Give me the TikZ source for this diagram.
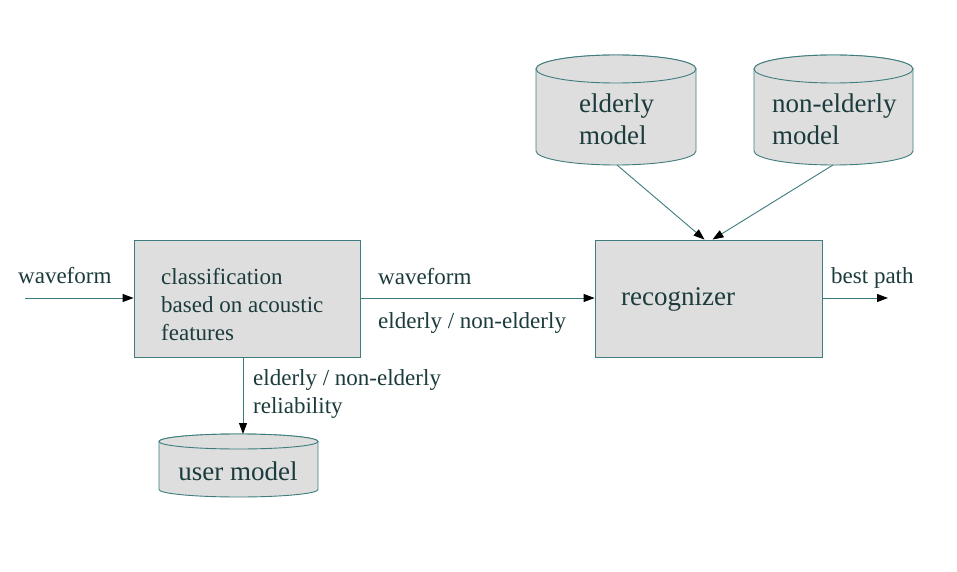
\documentclass[tikz,border=0pt]{standalone}
\usepackage{fontspec}
\setmainfont{Liberation Serif}
\usetikzlibrary{arrows.meta}
\definecolor{bg}{HTML}{FFFFFF}
\definecolor{edge}{HTML}{3E7C7E}
\definecolor{ink}{HTML}{1C3B3C}
\definecolor{boxbg}{HTML}{DEDEDE}
\tikzset{
  blk/.style={draw=edge, fill=boxbg, line width=0.9pt, inner sep=0pt},
  drum/.style={draw=edge, fill=boxbg, line width=0.9pt},
  flow/.style={draw=edge, line width=0.9pt, -{Triangle[length=11pt,width=8pt,color=black]}},
  lab/.style={text=ink, inner sep=0pt, font=\fontsize{23}{28}\selectfont},
  labbig/.style={text=ink, inner sep=0pt, font=\fontsize{27}{32}\selectfont}
}

\begin{document}
\begin{tikzpicture}[x=1pt,y=1pt]
  \useasboundingbox[fill=bg] (0,0) rectangle (957,571);

  % blocks
  \node[blk, minimum width=226pt, minimum height=117pt] (cls) at (247,272.5) {};
  \node[blk, minimum width=227pt, minimum height=117pt] (rec) at (708.5,272.5) {};
  \node[lab, anchor=north west, align=left] (clstxt) at (161,303) {classification\\based on acoustic\\features};
  \node[labbig, anchor=base west] (rectxt) at (621,266) {recognizer};

  % model drums
  \draw[drum] (536,502) -- (536,420) arc[start angle=180,end angle=360,x radius=80,y radius=14]
    -- (696,502) arc[start angle=0,end angle=180,x radius=80,y radius=14] -- cycle;
  \draw[drum] (616,502) ellipse[x radius=80,y radius=14];
  \draw[drum] (754,502) -- (754,420) arc[start angle=180,end angle=360,x radius=79.5,y radius=14]
    -- (913,502) arc[start angle=0,end angle=180,x radius=79.5,y radius=14] -- cycle;
  \draw[drum] (833.5,502) ellipse[x radius=79.5,y radius=14];
  \draw[drum] (159,129.5) -- (159,81.5) arc[start angle=180,end angle=360,x radius=79.5,y radius=7.5]
    -- (318,129.5) arc[start angle=0,end angle=180,x radius=79.5,y radius=7.5] -- cycle;
  \draw[drum] (238.5,129.5) ellipse[x radius=79.5,y radius=7.5];

  \node[labbig, anchor=north west, align=left] (eld) at (579,477) {elderly\\model};
  \node[labbig, anchor=north west, align=left] (neld) at (772,477) {non-elderly\\model};
  \node[labbig, anchor=base] (usr) at (238,91) {user model};
  \coordinate (eldbot) at (617,406);
  \coordinate (neldbot) at (833,406);
  \coordinate (usrtop) at (243,137);

  % signals
  \coordinate (in) at (25,273);
  \coordinate (out) at (888,273);
  \draw[flow] (in) -- (cls.west |- in);
  \draw[flow] (cls.east |- in) -- (rec.west |- in);
  \draw[flow] (rec.east |- out) -- (out);
  \draw[flow] (cls.south -| usrtop) -- (usrtop);
  \draw[flow] (eldbot) -- ([xshift=-4pt]rec.north);
  \draw[flow] (neldbot) -- ([xshift=4pt]rec.north);

  \node[lab, anchor=base west] (wavein) at (18,288) {waveform};
  \node[lab, anchor=base west] (wavemid) at (378,287) {waveform};
  \node[lab, anchor=base west] (clsmid) at (378,243) {elderly / non-elderly};
  \node[lab, anchor=base west] (best) at (831,288) {best path};
  \node[lab, anchor=north west, align=left] (rel) at (253,202) {elderly / non-elderly\\reliability};
\end{tikzpicture}
\end{document}
